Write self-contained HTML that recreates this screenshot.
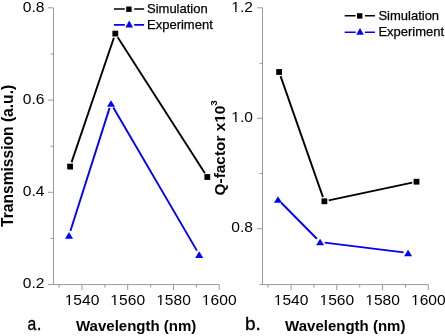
<!DOCTYPE html>
<html><head><meta charset="utf-8"><style>
html,body{margin:0;padding:0;background:#fff;width:445px;height:336px;overflow:hidden}
svg{display:block;will-change:transform}
text{font-family:"Liberation Sans", sans-serif;fill:#000}
.tk{font-size:14px}
.lg{font-size:13px;stroke:#000;stroke-width:0.25px}
.ttl{font-size:15px;font-weight:bold}
.pl{font-size:19px;stroke:#000;stroke-width:0.35px}
</style></head><body>
<svg width="445" height="336" viewBox="0 0 445 336">
<path d="M53.5,7.8V284.6H219.2" fill="none" stroke="#9a9a9a" stroke-width="1"/>
<path d="M48.0,7.8H53.5" stroke="#9a9a9a" stroke-width="1"/>
<path d="M48.0,100.1H53.5" stroke="#9a9a9a" stroke-width="1"/>
<path d="M48.0,192.3H53.5" stroke="#9a9a9a" stroke-width="1"/>
<path d="M48.0,284.5H53.5" stroke="#9a9a9a" stroke-width="1"/>
<path d="M50.5,54.0H53.5" stroke="#9a9a9a" stroke-width="1"/>
<path d="M50.5,146.2H53.5" stroke="#9a9a9a" stroke-width="1"/>
<path d="M50.5,238.4H53.5" stroke="#9a9a9a" stroke-width="1"/>
<path d="M82.0,284.6V290.1" stroke="#9a9a9a" stroke-width="1"/>
<path d="M127.7,284.6V290.1" stroke="#9a9a9a" stroke-width="1"/>
<path d="M173.5,284.6V290.1" stroke="#9a9a9a" stroke-width="1"/>
<path d="M219.2,284.6V290.1" stroke="#9a9a9a" stroke-width="1"/>
<path d="M59.1,284.6V287.6" stroke="#9a9a9a" stroke-width="1"/>
<path d="M104.9,284.6V287.6" stroke="#9a9a9a" stroke-width="1"/>
<path d="M150.6,284.6V287.6" stroke="#9a9a9a" stroke-width="1"/>
<path d="M196.4,284.6V287.6" stroke="#9a9a9a" stroke-width="1"/>
<g transform="translate(44.5,11.600000000000001) scale(1.115,1)"><text text-anchor="end" class="tk">0.8</text></g>
<g transform="translate(44.5,103.8) scale(1.115,1)"><text text-anchor="end" class="tk">0.6</text></g>
<g transform="translate(44.5,196.0) scale(1.115,1)"><text text-anchor="end" class="tk">0.4</text></g>
<g transform="translate(44.5,288.2) scale(1.115,1)"><text text-anchor="end" class="tk">0.2</text></g>
<g transform="translate(82.0,305.0) scale(1.115,1)"><text text-anchor="middle" class="tk">1540</text><rect x="-14.841" y="-1.396" width="2.784" height="2.096" fill="#fff"/><rect x="-10.780" y="-1.396" width="2.675" height="2.096" fill="#fff"/></g>
<g transform="translate(127.7,305.0) scale(1.115,1)"><text text-anchor="middle" class="tk">1560</text><rect x="-14.841" y="-1.396" width="2.784" height="2.096" fill="#fff"/><rect x="-10.780" y="-1.396" width="2.675" height="2.096" fill="#fff"/></g>
<g transform="translate(173.5,305.0) scale(1.115,1)"><text text-anchor="middle" class="tk">1580</text><rect x="-14.841" y="-1.396" width="2.784" height="2.096" fill="#fff"/><rect x="-10.780" y="-1.396" width="2.675" height="2.096" fill="#fff"/></g>
<g transform="translate(219.2,305.0) scale(1.115,1)"><text text-anchor="middle" class="tk">1600</text><rect x="-14.841" y="-1.396" width="2.784" height="2.096" fill="#fff"/><rect x="-10.780" y="-1.396" width="2.675" height="2.096" fill="#fff"/></g>
<path d="M262.5,7.8V284.6H428.3" fill="none" stroke="#9a9a9a" stroke-width="1"/>
<path d="M257.0,7.8H262.5" stroke="#9a9a9a" stroke-width="1"/>
<path d="M257.0,118.3H262.5" stroke="#9a9a9a" stroke-width="1"/>
<path d="M257.0,228.7H262.5" stroke="#9a9a9a" stroke-width="1"/>
<path d="M259.5,63.3H262.5" stroke="#9a9a9a" stroke-width="1"/>
<path d="M259.5,173.5H262.5" stroke="#9a9a9a" stroke-width="1"/>
<path d="M259.5,284.5H262.5" stroke="#9a9a9a" stroke-width="1"/>
<path d="M291.1,284.6V290.1" stroke="#9a9a9a" stroke-width="1"/>
<path d="M336.8,284.6V290.1" stroke="#9a9a9a" stroke-width="1"/>
<path d="M382.6,284.6V290.1" stroke="#9a9a9a" stroke-width="1"/>
<path d="M428.3,284.6V290.1" stroke="#9a9a9a" stroke-width="1"/>
<path d="M268.0,284.6V287.6" stroke="#9a9a9a" stroke-width="1"/>
<path d="M314.0,284.6V287.6" stroke="#9a9a9a" stroke-width="1"/>
<path d="M359.7,284.6V287.6" stroke="#9a9a9a" stroke-width="1"/>
<path d="M405.5,284.6V287.6" stroke="#9a9a9a" stroke-width="1"/>
<g transform="translate(253.0,11.600000000000001) scale(1.115,1)"><text text-anchor="end" class="tk">1.2</text><rect x="-18.729" y="-1.396" width="2.784" height="2.096" fill="#fff"/><rect x="-14.667" y="-1.396" width="2.675" height="2.096" fill="#fff"/></g>
<g transform="translate(253.0,122.0) scale(1.115,1)"><text text-anchor="end" class="tk">1.0</text><rect x="-18.729" y="-1.396" width="2.784" height="2.096" fill="#fff"/><rect x="-14.667" y="-1.396" width="2.675" height="2.096" fill="#fff"/></g>
<g transform="translate(253.0,232.39999999999998) scale(1.115,1)"><text text-anchor="end" class="tk">0.8</text></g>
<g transform="translate(291.1,305.0) scale(1.115,1)"><text text-anchor="middle" class="tk">1540</text><rect x="-14.841" y="-1.396" width="2.784" height="2.096" fill="#fff"/><rect x="-10.780" y="-1.396" width="2.675" height="2.096" fill="#fff"/></g>
<g transform="translate(336.8,305.0) scale(1.115,1)"><text text-anchor="middle" class="tk">1560</text><rect x="-14.841" y="-1.396" width="2.784" height="2.096" fill="#fff"/><rect x="-10.780" y="-1.396" width="2.675" height="2.096" fill="#fff"/></g>
<g transform="translate(382.6,305.0) scale(1.115,1)"><text text-anchor="middle" class="tk">1580</text><rect x="-14.841" y="-1.396" width="2.784" height="2.096" fill="#fff"/><rect x="-10.780" y="-1.396" width="2.675" height="2.096" fill="#fff"/></g>
<g transform="translate(428.3,305.0) scale(1.115,1)"><text text-anchor="middle" class="tk">1600</text><rect x="-14.841" y="-1.396" width="2.784" height="2.096" fill="#fff"/><rect x="-10.780" y="-1.396" width="2.675" height="2.096" fill="#fff"/></g>
<path d="M71.52,162.43L113.88,37.77" stroke="#000" stroke-width="1.9" fill="none"/>
<path d="M117.68,37.30L204.92,173.30" stroke="#000" stroke-width="1.9" fill="none"/>
<rect x="67.19999999999999" y="163.7" width="5.8" height="5.8" fill="#000"/>
<rect x="112.39999999999999" y="30.700000000000003" width="5.8" height="5.8" fill="#000"/>
<rect x="204.4" y="174.1" width="5.8" height="5.8" fill="#000"/>
<path d="M70.40,231.02L109.60,107.88" stroke="#00f" stroke-width="1.9" fill="none"/>
<path d="M113.32,107.47L196.88,250.63" stroke="#00f" stroke-width="1.9" fill="none"/>
<path d="M69.0,232.1L73.0,238.70000000000002L65.0,238.70000000000002Z" fill="#00f"/>
<path d="M111.0,100.2L115.0,106.8L107.0,106.8Z" fill="#00f"/>
<path d="M199.2,251.29999999999998L203.2,257.9L195.2,257.9Z" fill="#00f"/>
<path d="M280.55,76.15L322.95,197.15" stroke="#000" stroke-width="1.9" fill="none"/>
<path d="M328.70,200.38L412.20,182.62" stroke="#000" stroke-width="1.9" fill="none"/>
<rect x="276.20000000000005" y="69.1" width="5.8" height="5.8" fill="#000"/>
<rect x="321.5" y="198.4" width="5.8" height="5.8" fill="#000"/>
<rect x="413.6" y="178.79999999999998" width="5.8" height="5.8" fill="#000"/>
<path d="M281.24,202.77L316.86,238.73" stroke="#00f" stroke-width="1.9" fill="none"/>
<path d="M324.66,242.57L403.54,252.43" stroke="#00f" stroke-width="1.9" fill="none"/>
<path d="M278.0,196.2L282.0,202.8L274.0,202.8Z" fill="#00f"/>
<path d="M320.1,238.7L324.1,245.3L316.1,245.3Z" fill="#00f"/>
<path d="M408.1,249.7L412.1,256.3L404.1,256.3Z" fill="#00f"/>
<path d="M113.9,9.0H124.80000000000001M134.20000000000002,9.0H144.1" stroke="#000" stroke-width="1.6"/>
<rect x="126.2" y="6.499999999999999" width="5.4" height="5.4" fill="#000"/>
<path d="M113.9,24.9H124.80000000000001M134.20000000000002,24.9H144.1" stroke="#00f" stroke-width="1.6"/>
<path d="M129.20000000000002,20.6L133.00000000000003,27.4L125.40000000000002,27.4Z" fill="#00f"/>
<text transform="translate(147.0,13.0) scale(1,1.0)" class="lg">Simulation</text>
<text transform="translate(147.0,29.3) scale(1,1.0)" class="lg">Experiment</text>
<path d="M344.7,15.7H355.59999999999997M365.0,15.7H374.9" stroke="#000" stroke-width="1.6"/>
<rect x="357.0" y="13.2" width="5.4" height="5.4" fill="#000"/>
<path d="M344.7,32.2H355.59999999999997M365.0,32.2H374.9" stroke="#00f" stroke-width="1.6"/>
<path d="M360.0,27.900000000000006L363.8,34.7L356.2,34.7Z" fill="#00f"/>
<text transform="translate(378.4,20.4) scale(1,1.0)" class="lg">Simulation</text>
<text transform="translate(378.4,35.9) scale(1,1.0)" class="lg">Experiment</text>
<text x="76" y="331.2" class="ttl">Wavelength (nm)</text>
<text x="285.1" y="331.2" class="ttl">Wavelength (nm)</text>
<text transform="translate(12.7,155.9) rotate(-90) scale(0.975,1)" text-anchor="middle" class="ttl" style="font-size:16px">Transmission (a.u.)</text>
<g transform="translate(225.4,147.8) rotate(-90) scale(1.026,1)"><text text-anchor="middle" class="ttl">Q-factor x10<tspan dy="-8.3" style="font-size:9.5px">3</tspan></text><rect x="24.994" y="-1.881" width="2.886" height="2.581" fill="#fff"/><rect x="29.979" y="-1.881" width="2.696" height="2.581" fill="#fff"/></g>
<text transform="translate(27.4,330) scale(0.83,1)" class="pl">a<tspan dx="1">.</tspan></text>
<text x="245" y="329.8" class="pl">b.</text>
</svg>
</body></html>
